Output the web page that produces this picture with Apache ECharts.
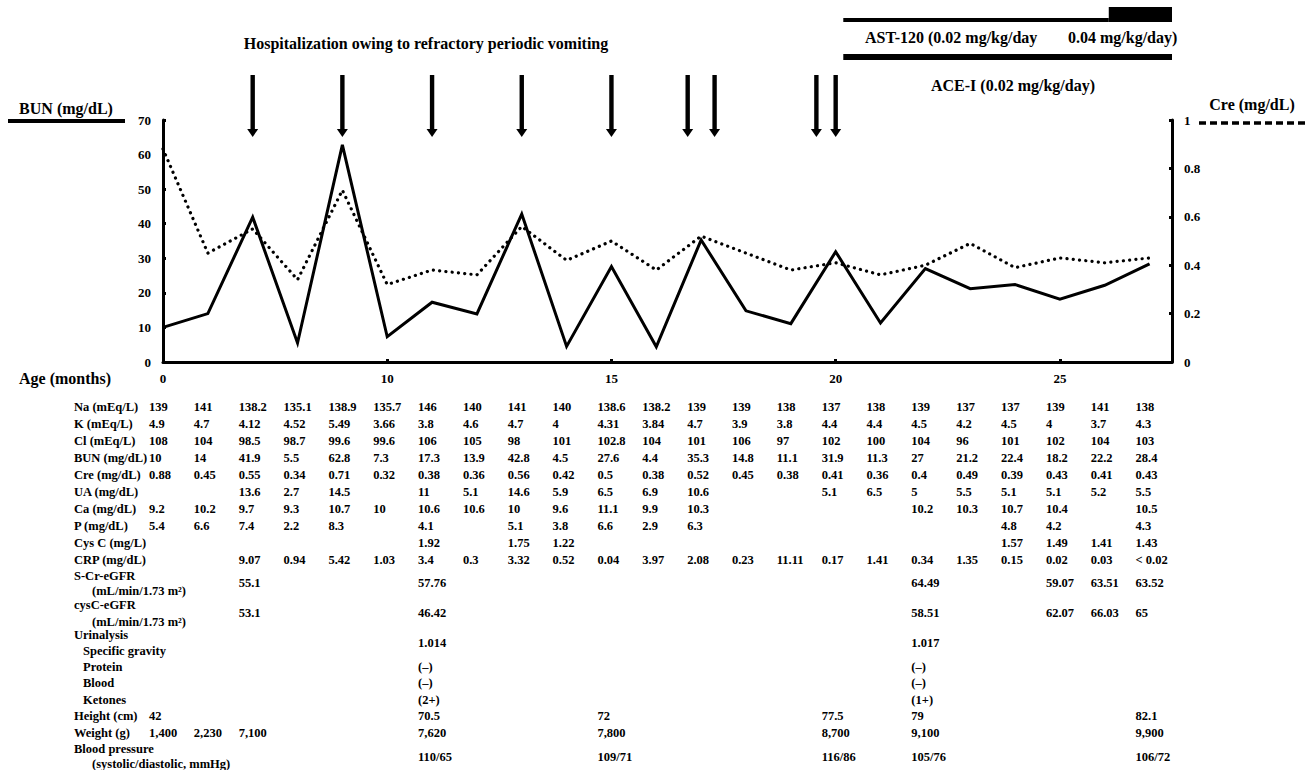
<!DOCTYPE html>
<html><head><meta charset="utf-8">
<script src="https://cdn.jsdelivr.net/npm/echarts@6/dist/echarts.min.js"></script>
<style>html,body{margin:0;padding:0;background:#fff}#c{width:1309px;height:770px}</style>
</head><body><div id="c"></div>
<script>
// ---- data ----
const tickPositions = [0, 5, 10, 15, 20];
const tickLabels = ['0', '10', '15', '20', '25'];
const bun = [10,14,41.9,5.5,62.8,7.3,17.3,13.9,42.8,4.5,27.6,4.4,35.3,14.8,11.1,31.9,11.3,27,21.2,22.4,18.2,22.2,28.4];
const cre = [0.88,0.45,0.55,0.34,0.71,0.32,0.38,0.36,0.56,0.42,0.5,0.38,0.52,0.45,0.38,0.41,0.36,0.4,0.49,0.39,0.43,0.41,0.43];
const hospitalizations = [2, 4, 6, 8, 10, 11.7, 12.3, 14.57, 15.0];
const ast120Low = [15.17, 21.09];
const ast120High = [21.09, 22.5];
const aceI = [15.17, 22.5];

const na = [139,141,138.2,135.1,138.9,135.7,146,140,141,140,138.6,138.2,139,139,138,137,138,139,137,137,139,141,138];
const k = [4.9,4.7,4.12,4.52,5.49,3.66,3.8,4.6,4.7,4,4.31,3.84,4.7,3.9,3.8,4.4,4.4,4.5,4.2,4.5,4,3.7,4.3];
const cl = [108,104,98.5,98.7,99.6,99.6,106,105,98,101,102.8,104,101,106,97,102,100,104,96,101,102,104,103];
const ua = ['','',13.6,2.7,14.5,'',11,5.1,14.6,5.9,6.5,6.9,10.6,'','',5.1,6.5,5,5.5,5.1,5.1,5.2,5.5];
const ca = [9.2,10.2,9.7,9.3,10.7,10,10.6,10.6,10,9.6,11.1,9.9,10.3,'','','','',10.2,10.3,10.7,10.4,'',10.5];
const p = [5.4,6.6,7.4,2.2,8.3,'',4.1,'',5.1,3.8,6.6,2.9,6.3,'','','','','','',4.8,4.2,'',4.3];
const cysC = ['','','','','','',1.92,'',1.75,1.22,'','','','','','','','','',1.57,1.49,1.41,1.43];
const crp = ['','',9.07,0.94,5.42,1.03,3.4,0.3,3.32,0.52,0.04,3.97,2.08,0.23,11.11,0.17,1.41,0.34,1.35,0.15,0.02,0.03,'< 0.02'];
const sCrEgfr = ['','',55.1,'','','',57.76,'','','','','','','','','','',64.49,'','',59.07,63.51,63.52];
const cysCEgfr = ['','',53.1,'','','',46.42,'','','','','','','','','','',58.51,'','',62.07,66.03,65];
const specGrav = ['','','','','','','1.014','','','','','','','','','','','1.017','','','','',''];
const protein = ['','','','','','','(–)','','','','','','','','','','','(–)','','','','',''];
const blood = ['','','','','','','(–)','','','','','','','','','','','(–)','','','','',''];
const ketones = ['','','','','','','(2+)','','','','','','','','','','','(1+)','','','','',''];
const height = [42,'','','','','',70.5,'','','',72,'','','','',77.5,'',79,'','','','',82.1];
const weight = ['1,400','2,230','7,100','','','','7,620','','','','7,800','','','','','8,700','','9,100','','','','','9,900'];
const bp = ['','','','','','','110/65','','','','109/71','','','','','116/86','','105/76','','','','','106/72'];

// rows: [label lines, values, label y, second label y, value y]
const tableRows = [
  [['Na (mEq/L)'], na, 407],
  [['K (mEq/L)'], k, 424],
  [['Cl (mEq/L)'], cl, 441],
  [['BUN (mg/dL)'], bun, 458],
  [['Cre (mg/dL)'], cre, 475],
  [['UA (mg/dL)'], ua, 492],
  [['Ca (mg/dL)'], ca, 509],
  [['P (mg/dL)'], p, 526],
  [['Cys C (mg/L)'], cysC, 543],
  [['CRP (mg/dL)'], crp, 560],
  [['S-Cr-eGFR', '(mL/min/1.73 m²)'], sCrEgfr, 576, 591, 583],
  [['cysC-eGFR', '(mL/min/1.73 m²)'], cysCEgfr, 605, 622, 613],
  [['Urinalysis', 'Specific gravity'], specGrav, 635, 651, 643],
  [['', 'Protein'], protein, 667, 667, 667],
  [['', 'Blood'], blood, 683, 683, 683],
  [['', 'Ketones'], ketones, 700, 700, 700],
  [['Height (cm)'], height, 716],
  [['Weight (g)'], weight, 733],
  [['Blood pressure', '(systolic/diastolic, mmHg)'], bp, 749, 764, 757]
];

const FONT = '"Liberation Serif", "Times New Roman", serif';
const chart = echarts.init(document.getElementById('c'), null, {renderer: 'svg'});
const axisLabelStyle = {color: '#000', fontFamily: FONT, fontWeight: 'bold', fontSize: 13};

const option = {
  backgroundColor: '#fff',
  animation: false,
  grid: {left: 163, right: 137, top: 120, bottom: 408},
  xAxis: {
    type: 'value', min: 0, max: 22.5, interval: 5,
    axisLine: {show: true, lineStyle: {color: '#000', width: 3}},
    axisTick: {show: true, inside: true, length: 3, lineStyle: {color: '#000', width: 3}},
    splitLine: {show: false},
    axisLabel: Object.assign({margin: 10, formatter: v => {
      const i = tickPositions.indexOf(v); return i >= 0 ? tickLabels[i] : '';
    }}, axisLabelStyle)
  },
  yAxis: [
    {type: 'value', min: 0, max: 70, interval: 10, position: 'left',
     axisLine: {show: true, lineStyle: {color: '#000', width: 3}},
     axisTick: {show: true, inside: true, length: 3, lineStyle: {color: '#000', width: 3}},
     splitLine: {show: false},
     axisLabel: Object.assign({margin: 12}, axisLabelStyle)},
    {type: 'value', min: 0, max: 1, interval: 0.2, position: 'right',
     axisLine: {show: true, lineStyle: {color: '#000', width: 3}},
     axisTick: {show: true, inside: true, length: 3, lineStyle: {color: '#000', width: 3}},
     splitLine: {show: false},
     axisLabel: Object.assign({margin: 12}, axisLabelStyle)}
  ],
  series: [
    {name: 'BUN', type: 'line', yAxisIndex: 0, symbol: 'none', data: bun.map((v, i) => [i, v]),
     lineStyle: {color: '#000', width: 3, join: 'miter'}},
    {name: 'Cre', type: 'line', yAxisIndex: 1, symbol: 'none', data: cre.map((v, i) => [i, v]),
     lineStyle: {color: '#000', width: 3.2, type: [0.1, 6.2], cap: 'round'}}
  ]
};
chart.setOption(option);

const px = x => chart.convertToPixel({xAxisIndex: 0}, x);
const txt = (x, y, text, size, align) => ({
  type: 'text', silent: true,
  style: {x, y, text, fill: '#000', font: 'bold ' + size + 'px ' + FONT, align: align || 'left', verticalAlign: 'middle'}
});
const g = [];

// titles & legends
g.push(txt(426, 43, 'Hospitalization owing to refractory periodic vomiting', 16, 'center'));
g.push(txt(66, 108, 'BUN (mg/dL)', 16, 'center'));
g.push({type: 'rect', silent: true, shape: {x: 8, y: 119, width: 117, height: 4}, style: {fill: '#000'}});
g.push(txt(1252, 104, 'Cre (mg/dL)', 16, 'center'));
g.push({type: 'line', silent: true, shape: {x1: 1199, y1: 123, x2: 1309, y2: 123},
  style: {stroke: '#000', lineWidth: 3.5, lineDash: [7, 4]}});
g.push(txt(19, 378, 'Age (months)', 16, 'left'));

// arrows for hospitalizations
hospitalizations.forEach(h => {
  const x = px(h);
  g.push({type: 'rect', silent: true, shape: {x: x - 2.2, y: 75, width: 4.4, height: 56}, style: {fill: '#000'}});
  g.push({type: 'polygon', silent: true, shape: {points: [[x - 5.5, 129], [x + 5.5, 129], [x, 137]]}, style: {fill: '#000'}});
});

// drug therapy bars
const x1 = px(ast120Low[0]), x2 = px(ast120Low[1]), x3 = px(ast120High[1]);
g.push({type: 'rect', silent: true, shape: {x: x1, y: 18, width: x2 - x1, height: 4}, style: {fill: '#000'}});
g.push({type: 'rect', silent: true, shape: {x: x2, y: 7, width: x3 - x2, height: 15}, style: {fill: '#000'}});
g.push(txt(865, 37, 'AST-120 (0.02 mg/kg/day', 16, 'left'));
g.push(txt(1068, 37, '0.04 mg/kg/day)', 16, 'left'));
const a1 = px(aceI[0]), a2 = px(aceI[1]);
g.push({type: 'rect', silent: true, shape: {x: a1, y: 54, width: a2 - a1, height: 6}, style: {fill: '#000'}});
g.push(txt(1013, 85, 'ACE-I (0.02 mg/kg/day)', 16, 'center'));

// table
const TS = 12.5;
tableRows.forEach(r => {
  const labels = r[0], vals = r[1];
  const y1 = r[2], y2 = r[3], vy = r.length > 4 ? r[4] : r[2];
  if (labels[0]) g.push(txt(74, y1, labels[0], TS, 'left'));
  if (labels.length > 1) g.push(txt(labels[0] === 'Urinalysis' || labels[0] === '' ? 83 : 92, y2, labels[1], TS, 'left'));
  vals.forEach((v, i) => {
    if (v === '' || v === null) return;
    g.push(txt(px(i) - 14, vy, String(v), TS, 'left'));
  });
});

chart.setOption({graphic: g});
</script>
</body></html>
